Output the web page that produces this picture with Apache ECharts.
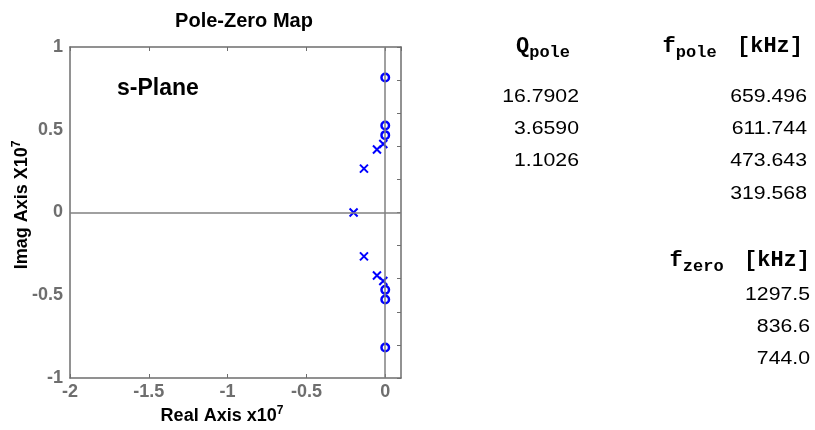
<!DOCTYPE html>
<html>
<head>
<meta charset="utf-8">
<script src="https://cdn.jsdelivr.net/npm/echarts@6/dist/echarts.min.js"></script>
<style>
  html, body { margin: 0; padding: 0; background: #fff; }
  #main { width: 815px; height: 430px; }
</style>
</head>
<body>
<div id="main"></div>
<script>
var dom = document.getElementById('main');
var myChart = echarts.init(dom);

// poles (x) and zeros (o), units of 1e7 rad/s
var poleRe = [-0.2008, -0.1350, -0.1350, -0.0525, -0.0525, -0.0123, -0.0123];
var poleIm = [0, 0.2653, -0.2653, 0.3808, -0.3808, 0.4142, -0.4142];
var zeroRe = [0, 0, 0, 0, 0, 0];
var zeroIm = [0.8152, -0.8152, 0.5257, -0.5257, 0.4675, -0.4675];

// table on the right
var qPole = ['16.7902', '3.6590', '1.1026'];
var fPole = ['659.496', '611.744', '473.643', '319.568'];
var fZero = ['1297.5', '836.6', '744.0'];

var grey = '#6e6e6e';
var blue = '#0000ff';
var sans = 'Liberation Sans, Arial, sans-serif';
var mono = 'Liberation Mono, Courier New, monospace';

function pairs(xs, ys) {
  return xs.map(function (x, i) { return [x, ys[i]]; });
}

function txt(x, y, text, align, extra) {
  var el = {
    type: 'text',
    x: x,
    y: y,
    silent: true,
    style: {
      text: text,
      align: align, textAlign: align,
      verticalAlign: 'middle', textVerticalAlign: 'middle',
      fill: '#000',
      fontFamily: sans,
      fontSize: 18
    }
  };
  if (extra) {
    for (var k in extra) {
      if (k === 'style') {
        for (var s in extra.style) el.style[s] = extra.style[s];
      } else {
        el[k] = extra[k];
      }
    }
  }
  return el;
}

var headRich = {
  m: { fontFamily: mono, fontWeight: 'bold', fontSize: 22, lineHeight: 30, fill: '#000' },
  s: { fontFamily: mono, fontWeight: 'bold', fontSize: 17, lineHeight: 14, verticalAlign: 'bottom', fill: '#000' }
};
var supRich = {
  a: { fontFamily: sans, fontWeight: 'bold', fontSize: 18, lineHeight: 22, fill: '#000' },
  b: { fontFamily: sans, fontWeight: 'bold', fontSize: 12, lineHeight: 12, verticalAlign: 'top', fill: '#000' }
};

var graphics = [
  txt(117, 89, 's-Plane', 'left', { style: { fontWeight: 'bold', fontSize: 23 } }),
  txt(222, 416, '{a|Real Axis x10}{b|7}', 'center', { style: { rich: supRich } }),
  txt(22, 205, '{a|Imag Axis X10}{b|7}', 'center', { rotation: Math.PI / 2, style: { rich: supRich } }),
  txt(516, 46, '{m|Q}{s|pole}', 'left', { style: { rich: headRich } }),
  txt(803, 46, '{m|f}{s|pole  }{m|[kHz]}', 'right', { style: { rich: headRich } }),
  txt(810, 260, '{m|f}{s|zero  }{m|[kHz]}', 'right', { style: { rich: headRich } })
];
var rowY = [97, 129, 161, 194];
var zeroY = [295, 327, 359];
qPole.forEach(function (v, i) {
  graphics.push(txt(579, rowY[i], v, 'right', { scaleX: 1.18 }));
});
fPole.forEach(function (v, i) {
  graphics.push(txt(807, rowY[i], v, 'right', { scaleX: 1.18 }));
});
fZero.forEach(function (v, i) {
  graphics.push(txt(810, zeroY[i], v, 'right', { scaleX: 1.18 }));
});

var tickLabel = { color: grey, fontWeight: 'bold', fontSize: 18, fontFamily: sans };

option = {
  backgroundColor: '#fff',
  animation: false,
  title: {
    text: 'Pole-Zero Map',
    left: 239,
    textAlign: 'center',
    top: 6,
    textStyle: { color: '#000', fontWeight: 'bold', fontSize: 20, fontFamily: sans }
  },
  grid: { left: 70, right: 414, top: 47, bottom: 52 },
  xAxis: [{
    type: 'value',
    min: -2,
    max: 0.1,
    interval: 0.5,
    position: 'bottom',
    axisLine: { show: true, onZero: false, lineStyle: { color: grey, width: 1.5 } },
    axisTick: { show: true, inside: true, length: 4, lineStyle: { color: grey } },
    axisLabel: Object.assign({ margin: 5, showMaxLabel: false }, tickLabel),
    splitLine: { show: false }
  }, {
    type: 'value',
    min: -2,
    max: 0.1,
    interval: 0.5,
    position: 'top',
    axisLine: { show: true, onZero: false, lineStyle: { color: grey, width: 1.5 } },
    axisTick: { show: true, inside: true, length: 4, lineStyle: { color: grey } },
    axisLabel: { show: false },
    splitLine: { show: false }
  }],
  yAxis: [{
    type: 'value',
    min: -1,
    max: 1,
    interval: 0.5,
    position: 'left',
    axisLine: { show: true, onZero: false, lineStyle: { color: grey, width: 1.5 } },
    axisTick: { show: false },
    axisLabel: Object.assign({ margin: 7 }, tickLabel),
    splitLine: { show: false }
  }, {
    type: 'value',
    min: -1,
    max: 1,
    interval: 0.2,
    position: 'right',
    axisLine: { show: true, onZero: false, lineStyle: { color: grey, width: 1.5 } },
    axisTick: { show: true, inside: true, length: 4, lineStyle: { color: grey } },
    axisLabel: { show: false },
    splitLine: { show: false }
  }],
  series: [{
    name: 'zeros',
    type: 'scatter',
    silent: true,
    z: 3,
    symbol: 'circle',
    symbolSize: 7.5,
    itemStyle: { color: 'transparent', borderColor: blue, borderWidth: 2.5, opacity: 1 },
    data: pairs(zeroRe, zeroIm),
    markLine: {
      silent: true,
      symbol: 'none',
      label: { show: false },
      lineStyle: { color: '#808080', width: 1.5, type: 'solid', opacity: 1 },
      emphasis: { disabled: true },
      data: [{ xAxis: 0 }, { yAxis: 0 }]
    }
  }, {
    name: 'poles',
    type: 'scatter',
    silent: true,
    z: 3,
    symbol: 'path://M0,0L10,10M10,0L0,10',
    symbolSize: 8,
    itemStyle: { color: 'transparent', borderColor: blue, borderWidth: 2, opacity: 1 },
    data: pairs(poleRe, poleIm)
  }],
  graphic: { elements: graphics }
};

myChart.setOption(option);
window.onresize = myChart.resize;
</script>
</body>
</html>
